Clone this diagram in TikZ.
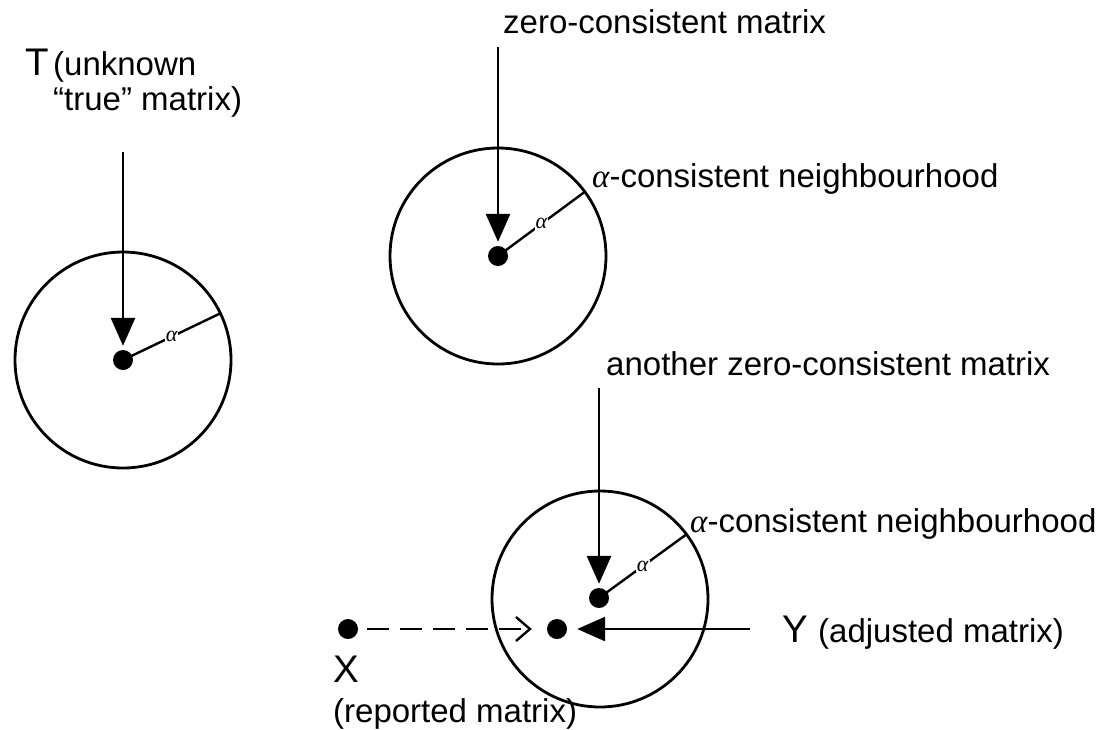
\documentclass[tikz,border=0pt]{standalone}
\usepackage{fontspec}
\setmainfont{Liberation Sans}
\newfontfamily\grk{Liberation Serif}
\usetikzlibrary{arrows.meta}
\newcommand{\alp}{{\grk\itshape α}}
\begin{document}
\begin{tikzpicture}[x=1pt,y=-1pt,
  lbl/.style={anchor=base west, inner sep=0pt, font=\fontsize{33}{35}\selectfont},
  big/.style={anchor=base west, inner sep=0pt, font=\fontsize{38.5}{40}\selectfont},
  ring/.style={draw, line width=2.8pt},
  pt/.style={circle, fill=black, inner sep=0pt, minimum size=20pt},
  rad/.style={line width=2.4pt},
  alab/.style={fill=white, inner sep=1pt, font=\fontsize{22}{24}\selectfont},
  arr/.style={line width=2.8pt, -{Triangle[length=28pt,width=24pt]}, shorten >=4pt},
]
\useasboundingbox (0,0) rectangle (1107,729);
% circles
\draw[ring] (123,360) circle[radius=108pt];
\draw[ring] (498,256) circle[radius=108pt];
\draw[ring] (600,599) circle[radius=108pt];
% dots
\node[pt] (d1) at (123,360) {};
\node[pt] (d2) at (498,256) {};
\node[pt] (d3) at (599,598) {};
\node[pt] (xd) at (348,629) {};
\node[pt] (yd) at (557,629) {};
% radius ends
\coordinate (e1) at (220.4,313.3);
\coordinate (e2) at (584.8,191.8);
\coordinate (e3) at (686.5,534.3);
\draw[rad] (d1.center) -- node[alab]{\alp} (e1);
\draw[rad] (d2.center) -- node[alab]{\alp} (e2);
\draw[rad] (d3.center) -- node[alab]{\alp} (e3);
% arrow starts
\coordinate (s1) at (123,152);
\coordinate (s2) at (498,47);
\coordinate (s3) at (599,388);
\coordinate (s4) at (750,629);
\draw[arr] (s1) -- (d1);
\draw[arr] (s2) -- (d2);
\draw[arr] (s3) -- (d3);
\draw[arr, shorten >=10pt] (s4) -- (yd);
\draw[line width=2.6pt, dash pattern=on 22pt off 11pt,
  -{Straight Barb[length=14pt,width=24pt,line width=2.4pt]},
  shorten <=9pt, shorten >=15pt] (xd) -- (yd);
% labels
\node[big] (T) at (25,75) {T};
\node[lbl] (tu) at (53,75) {(unknown};
\node[lbl] (tt) at (53,110) {“true” matrix)};
\node[lbl] (zc) at (503,33) {zero-consistent matrix};
\node[lbl] (n1) at (592,187) {\alp-consistent neighbourhood};
\node[lbl] (az) at (606,375) {another zero-consistent matrix};
\node[lbl] (n2) at (690,532) {\alp-consistent neighbourhood};
\node[big] (Y) at (782,642) {Y};
\node[lbl] (ya) at (818,642) {(adjusted matrix)};
\node[big] (X) at (333,682) {X};
\node[lbl] (xr) at (333,722) {(reported matrix)};
\end{tikzpicture}
\end{document}
